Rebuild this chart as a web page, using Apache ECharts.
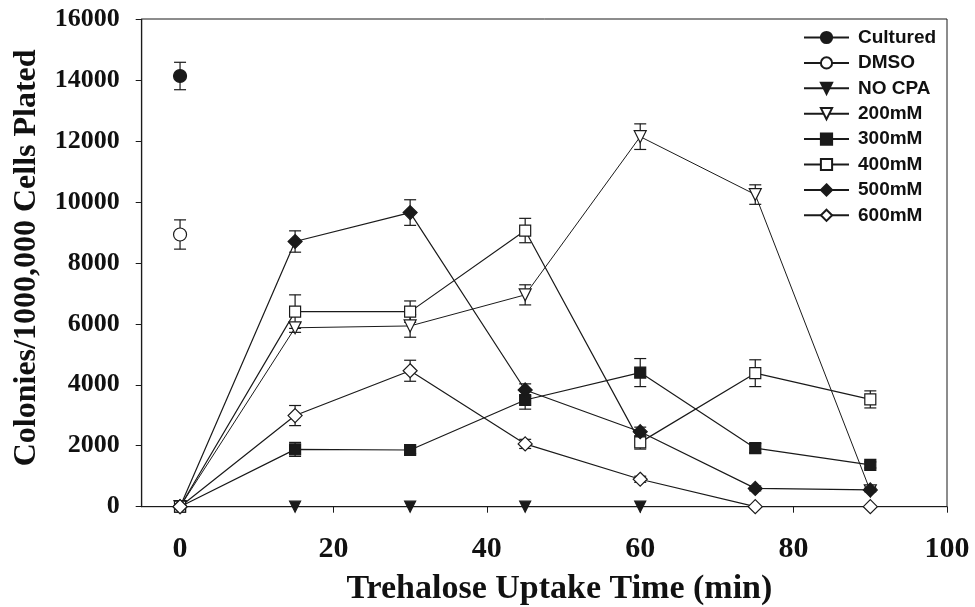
<!DOCTYPE html>
<html>
<head>
<meta charset="utf-8">
<script src="https://cdn.jsdelivr.net/npm/echarts@6/dist/echarts.min.js"></script>
<style>
html,body{margin:0;padding:0;background:#fff;}
#c{width:975px;height:607px;}
</style>
</head>
<body>
<div id="c"></div>
<script>
// ---- data ----
const times = [0, 15, 30, 45, 60, 75, 90];
const xTicks = [0, 20, 40, 60, 80, 100];

const culturedT = [0];
const cultured = [14130];
const culturedErr = [450];

const dmsoT = [0];
const dmso = [8930];
const dmsoErr = [480];

const noCpaT = [0, 15, 30, 45, 60];
const noCpa = [0, 0, 0, 0, 0];

const mM200 = [0, 5870, 5930, 6950, 12140, 10240, 520];
const mM200Err = [0, 150, 370, 330, 420, 320, 0];
const mM300 = [0, 1880, 1860, 3500, 4400, 1920, 1370];
const mM300Err = [0, 230, 120, 300, 460, 150, 100];
const mM400 = [0, 6400, 6400, 9060, 2110, 4380, 3520];
const mM400Err = [0, 550, 350, 400, 220, 440, 280];
const mM500 = [0, 8700, 9650, 3830, 2460, 600, 550];
const mM500Err = [0, 350, 420, 200, 150, 80, 60];
const mM600 = [0, 2990, 4460, 2060, 900, 0, 0];
const mM600Err = [0, 330, 345, 150, 100, 0, 0];

// ---- build ----
const INK = '#1a1a1a';
function pairs(xs, ys) { return ys.map((v, i) => [xs[i], v]); }

const errData = [];
function addErr(xs, ys, es) { ys.forEach((v, i) => { if (es[i] > 0) errData.push([xs[i], v, es[i]]); }); }
addErr(culturedT, cultured, culturedErr);
addErr(dmsoT, dmso, dmsoErr);
addErr(times, mM200, mM200Err);
addErr(times, mM300, mM300Err);
addErr(times, mM400, mM400Err);
addErr(times, mM500, mM500Err);
addErr(times, mM600, mM600Err);

function lineSeries(name, data, symbol, filled, size, rotate, lw) {
  return {
    name: name, type: 'line', data: data,
    symbol: symbol, symbolSize: size, symbolRotate: rotate || 0,
    showAllSymbol: true,
    lineStyle: { color: INK, width: lw || 1.2 },
    itemStyle: { color: filled ? INK : '#fff', borderColor: INK, borderWidth: 1.2 },
    emphasis: { disabled: true },
    animation: false, z: 3
  };
}

const series = [
  {
    type: 'custom', data: errData, z: 2, animation: false, silent: true,
    renderItem: function (params, api) {
      const x = api.value(0), y = api.value(1), e = api.value(2);
      const top = api.coord([x, y + e]);
      const bot = api.coord([x, y - e]);
      const hw = 6;
      const st = { stroke: INK, lineWidth: 1.2 };
      return {
        type: 'group', children: [
          { type: 'line', shape: { x1: top[0], y1: top[1], x2: bot[0], y2: bot[1] }, style: st },
          { type: 'line', shape: { x1: top[0] - hw, y1: top[1], x2: top[0] + hw, y2: top[1] }, style: st },
          { type: 'line', shape: { x1: bot[0] - hw, y1: bot[1], x2: bot[0] + hw, y2: bot[1] }, style: st }
        ]
      };
    }
  },
  lineSeries('Cultured', pairs(culturedT, cultured), 'circle', true, 13),
  lineSeries('DMSO', pairs(dmsoT, dmso), 'circle', false, 13),
  lineSeries('NO CPA', pairs(noCpaT, noCpa), 'triangle', true, 11, 180),
  lineSeries('200mM', pairs(times, mM200), 'triangle', false, 12, 180, 1),
  lineSeries('300mM', pairs(times, mM300), 'rect', true, 11),
  lineSeries('400mM', pairs(times, mM400), 'rect', false, 11),
  lineSeries('500mM', pairs(times, mM500), 'diamond', true, 14),
  lineSeries('600mM', pairs(times, mM600), 'diamond', false, 14)
];

const chart = echarts.init(document.getElementById('c'), null, { renderer: 'canvas' });
chart.setOption({
  animation: false,
  backgroundColor: '#fff',
  grid: { left: 141.7, right: 28, top: 19, bottom: 100.3, containLabel: false, outerBoundsMode: 'none', show: true, borderColor: INK, borderWidth: 1, backgroundColor: 'transparent' },
  legend: {
    orient: 'vertical', left: 803, top: 28,
    data: ['Cultured', 'DMSO', 'NO CPA', '200mM', '300mM', '400mM', '500mM', '600mM'],
    itemWidth: 45, itemHeight: 14, itemGap: 6.4, padding: 0,
    selectedMode: false,
    textStyle: { fontFamily: 'Liberation Sans', fontWeight: 'bold', fontSize: 19, color: '#111', padding: [0, 0, 0, 4] }
  },
  xAxis: {
    type: 'value', min: -5, max: 100,
    name: 'Trehalose Uptake Time (min)', nameLocation: 'middle', nameGap: 66,
    nameTextStyle: { fontFamily: 'Liberation Serif', fontWeight: 'bold', fontSize: 34, color: '#111', padding: [0, 0, 0, 30] },
    axisLine: { show: true, onZero: false, lineStyle: { color: INK, width: 1.2 } },
    axisTick: { show: true, length: 6, customValues: xTicks, lineStyle: { color: INK } },
    axisLabel: { customValues: xTicks, margin: 28, fontFamily: 'Liberation Serif', fontWeight: 'bold', fontSize: 30, color: '#111' },
    splitLine: { show: false }
  },
  yAxis: {
    type: 'value', min: 0, max: 16000, interval: 2000,
    name: 'Colonies/1000,000 Cells Plated', nameLocation: 'middle', nameGap: 99,
    nameTextStyle: { fontFamily: 'Liberation Serif', fontWeight: 'bold', fontSize: 32, color: '#111', padding: [0, 0, 0, 10] },
    axisLine: { show: true, onZero: false, lineStyle: { color: INK, width: 1.2 } },
    axisTick: { show: true, length: 6, lineStyle: { color: INK } },
    axisLabel: { margin: 22, formatter: function (v) { return String(v); }, fontFamily: 'Liberation Serif', fontWeight: 'bold', fontSize: 26, color: '#111' },
    splitLine: { show: false }
  },
  series: series
});
</script>
</body>
</html>
